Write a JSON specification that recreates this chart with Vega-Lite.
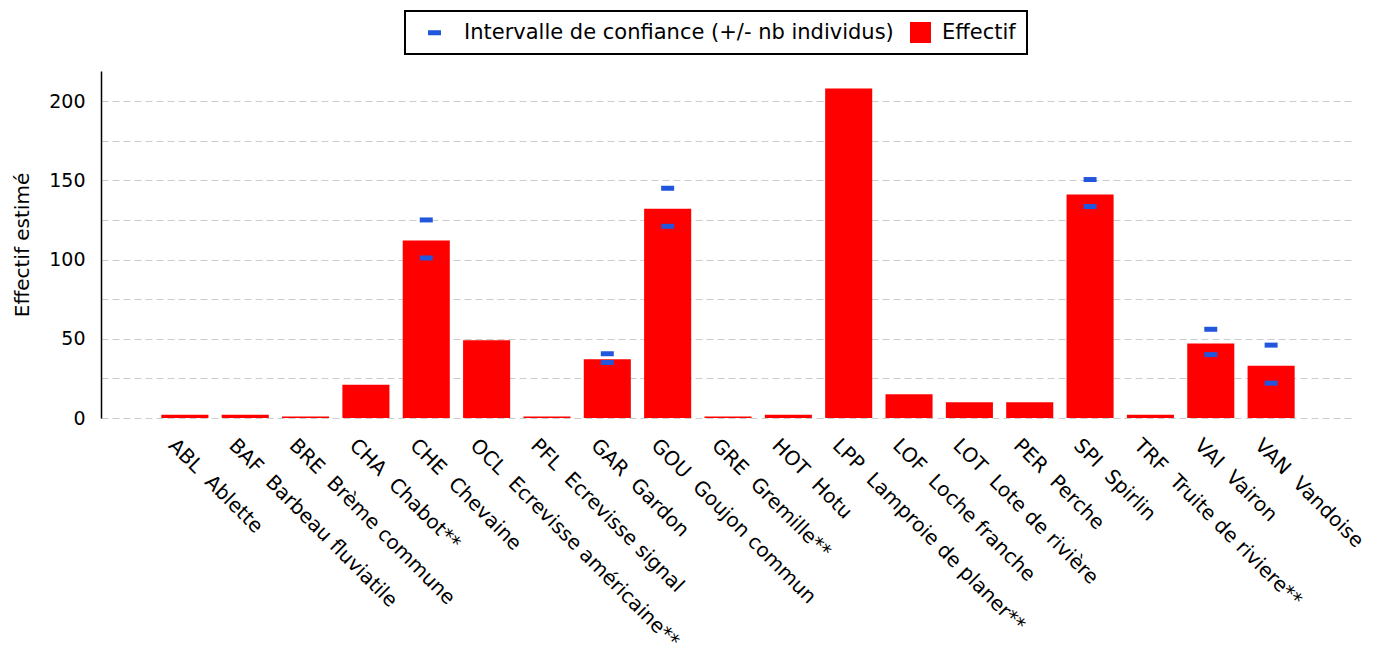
{
  "$schema": "https://vega.github.io/schema/vega-lite/v6.json",
  "autosize": "none",
  "width": 1254,
  "height": 347,
  "padding": {"left": 101, "top": 71, "right": 32, "bottom": 233},
  "background": "white",
  "config": {
    "font": "DejaVu Sans",
    "view": {"stroke": null},
    "axis": {"labelFont": "DejaVu Sans", "titleFont": "DejaVu Sans", "labelColor": "black", "titleColor": "black"}
  },
  "data": {
    "values": [
      {"espece": "ABL\u00a0\u00a0Ablette", "effectif": 2, "ci_haut": null, "ci_bas": null},
      {"espece": "BAF\u00a0\u00a0Barbeau fluviatile", "effectif": 2, "ci_haut": null, "ci_bas": null},
      {"espece": "BRE\u00a0\u00a0Brème commune", "effectif": 1, "ci_haut": null, "ci_bas": null},
      {"espece": "CHA\u00a0\u00a0Chabot**", "effectif": 21, "ci_haut": null, "ci_bas": null},
      {"espece": "CHE\u00a0\u00a0Chevaine", "effectif": 112, "ci_haut": 125, "ci_bas": 101},
      {"espece": "OCL\u00a0\u00a0Ecrevisse américaine**", "effectif": 49, "ci_haut": null, "ci_bas": null},
      {"espece": "PFL\u00a0\u00a0Ecrevisse signal", "effectif": 1, "ci_haut": null, "ci_bas": null},
      {"espece": "GAR\u00a0\u00a0Gardon", "effectif": 37, "ci_haut": 40.5, "ci_bas": 35},
      {"espece": "GOU\u00a0\u00a0Goujon commun", "effectif": 132, "ci_haut": 145, "ci_bas": 121},
      {"espece": "GRE\u00a0\u00a0Gremille**", "effectif": 1, "ci_haut": null, "ci_bas": null},
      {"espece": "HOT\u00a0\u00a0Hotu", "effectif": 2, "ci_haut": null, "ci_bas": null},
      {"espece": "LPP\u00a0\u00a0Lamproie de planer**", "effectif": 208, "ci_haut": null, "ci_bas": null},
      {"espece": "LOF\u00a0\u00a0Loche franche", "effectif": 15, "ci_haut": null, "ci_bas": null},
      {"espece": "LOT\u00a0\u00a0Lote de rivière", "effectif": 10, "ci_haut": null, "ci_bas": null},
      {"espece": "PER\u00a0\u00a0Perche", "effectif": 10, "ci_haut": null, "ci_bas": null},
      {"espece": "SPI\u00a0\u00a0Spirlin", "effectif": 141, "ci_haut": 150.5, "ci_bas": 133.5},
      {"espece": "TRF\u00a0\u00a0Truite de riviere**", "effectif": 2, "ci_haut": null, "ci_bas": null},
      {"espece": "VAI\u00a0\u00a0Vairon", "effectif": 47, "ci_haut": 56, "ci_bas": 40},
      {"espece": "VAN\u00a0\u00a0Vandoise", "effectif": 33, "ci_haut": 46, "ci_bas": 22}
    ]
  },
  "encoding": {
    "x": {
      "field": "espece",
      "type": "nominal",
      "sort": null,
      "scale": {"paddingInner": 0.22, "paddingOuter": 1},
      "axis": {
        "title": null,
        "labelAngle": 45,
        "labelAlign": "left",
        "labelBaseline": "top",
        "labelFontSize": 20,
        "labelPadding": 17,
        "labelOffset": -6,
        "labelLimit": 500,
        "ticks": false,
        "domain": false,
        "grid": false
      }
    }
  },
  "layer": [
    {
      "mark": {"type": "bar"},
      "encoding": {
        "y": {
          "field": "effectif",
          "type": "quantitative",
          "scale": {"domain": [0, 219], "nice": false},
          "axis": {
            "title": "Effectif estimé",
            "titleFontSize": 20,
            "titleFontWeight": "normal",
            "titlePadding": 16,
            "values": [0, 25, 50, 75, 100, 125, 150, 175, 200],
            "labelExpr": "datum.value % 50 == 0 ? datum.label : ''",
            "labelFontSize": 19,
            "labelPadding": 16,
            "ticks": false,
            "domainColor": "black",
            "domainWidth": 1.5,
            "grid": true,
            "gridColor": "#cccccc",
            "gridDash": [7, 4],
            "gridWidth": 1
          }
        },
        "color": {
          "datum": "Effectif",
          "scale": {
            "domain": ["Intervalle de confiance (+/- nb individus)", "Effectif"],
            "range": ["#2257DD", "#FF0000"]
          },
          "legend": {
            "title": null,
            "orient": "none",
            "direction": "horizontal",
            "legendX": 304,
            "legendY": -60,
            "labelFontSize": 21,
            "labelColor": "black",
            "labelLimit": 800,
            "labelOffset": 11,
            "symbolSize": 441,
            "symbolStrokeWidth": 0,
            "columnPadding": 16,
            "padding": 11,
            "strokeColor": "black",
            "encode": {
              "legend": {"update": {"strokeWidth": {"value": 2}}},
              "symbols": {"update": {"shape": {"signal": "datum.value == 'Effectif' ? 'square' : 'M0.14,-0.24H1.38V0.24H0.14Z'"}, "opacity": {"value": 1}}},
              "labels": {"update": {"dx": {"signal": "datum.value == 'Effectif' ? 0 : 16"}}}
            }
          }
        }
      }
    },
    {
      "mark": {"type": "tick", "size": 13, "thickness": 5, "opacity": 1},
      "encoding": {
        "y": {"field": "ci_haut", "type": "quantitative"},
        "color": {"datum": "Intervalle de confiance (+/- nb individus)"}
      }
    },
    {
      "mark": {"type": "tick", "size": 13, "thickness": 5, "opacity": 1},
      "encoding": {
        "y": {"field": "ci_bas", "type": "quantitative"},
        "color": {"datum": "Intervalle de confiance (+/- nb individus)"}
      }
    }
  ]
}
